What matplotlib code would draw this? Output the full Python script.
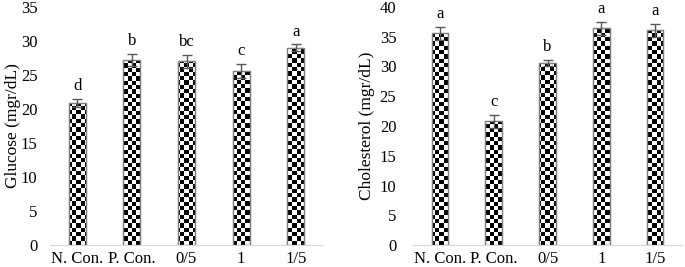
import numpy as np
import matplotlib
matplotlib.use("Agg")
import matplotlib.pyplot as plt

plt.rcParams['font.family'] = ['Liberation Serif', 'DejaVu Serif']

# Données
groupes = ['N. Con.', 'P. Con.', '0/5', '1', '1/5']
glucose = [20.9, 27.2, 27.0, 25.6, 29.0]
glucose_err = [0.6, 0.9, 1.0, 1.0, 0.5]
glucose_lettres = ['d', 'b', 'bc', 'c', 'a']
cholesterol = [35.6, 20.8, 30.6, 36.4, 36.1]
cholesterol_err = [1.1, 1.1, 0.45, 1.1, 1.1]
cholesterol_lettres = ['a', 'c', 'b', 'a', 'a']


def damier(ax, barres, cell_px=4.3):
    """Remplit chaque barre d'un motif en damier (image découpée)."""
    bbox = ax.get_window_extent()
    ncol = int(round(bbox.width / cell_px))
    nrow = int(round(bbox.height / cell_px))
    motif = (np.add.outer(np.arange(nrow), np.arange(ncol)) % 2).astype(float)
    for b in barres:
        im = ax.imshow(motif, cmap='gray', vmin=0, vmax=1, extent=[0, 1, 0, 1],
                       transform=ax.transAxes, interpolation='nearest',
                       aspect='auto', zorder=2)
        im.set_clip_path(b)


def panneau(ax, valeurs, erreurs, lettres, ymax, ylabel, ypad, xlabel_pos):
    x = np.arange(len(groupes))
    barres = ax.bar(x, valeurs, width=0.31, color='white', edgecolor='#7f7f7f',
                    linewidth=0.8, zorder=1)
    ax.set_xlim(-0.5, len(groupes) - 0.5)
    ax.set_ylim(0, ymax)
    damier(ax, barres)
    # contour par-dessus le motif
    ax.bar(x, valeurs, width=0.31, fill=False, edgecolor='#7f7f7f',
           linewidth=1.0, zorder=3)
    ax.errorbar(x, valeurs, yerr=erreurs, fmt='none', ecolor='#595959',
                elinewidth=1.0, capsize=3.5, capthick=1.0, zorder=4)
    for xi, v, e, l in zip(x, valeurs, erreurs, lettres):
        ax.text(xi, v + e + ymax * 0.02, l, ha='center', va='bottom', fontsize=12)
    ax.set_xticks(x)
    ax.set_xticklabels(groupes, fontsize=12)
    ax.set_yticks(np.arange(0, ymax + 1, 5))
    ax.tick_params(axis='both', length=0, labelsize=12)
    ax.tick_params(axis='x', pad=4)
    ax.tick_params(axis='y', pad=ypad)
    for s in ['top', 'right', 'left']:
        ax.spines[s].set_visible(False)
    ax.spines['bottom'].set_color('#d9d9d9')
    ax.set_ylabel(ylabel, fontsize=12.5)
    ax.yaxis.set_label_coords(xlabel_pos, 0.5)


fig = plt.figure(figsize=(6.85, 2.67), dpi=100)
ax1 = fig.add_axes([50 / 685, 22 / 267, 273 / 685, 238 / 267])
ax2 = fig.add_axes([413 / 685, 22 / 267, 269 / 685, 238 / 267])

panneau(ax1, glucose, glucose_err, glucose_lettres, 35, 'Glucose (mgr/dL)', 9, -0.105)
panneau(ax2, cholesterol, cholesterol_err, cholesterol_lettres, 40, 'Cholesterol (mgr/dL)', 12, -0.14)

fig.savefig('out.png', dpi=100)
